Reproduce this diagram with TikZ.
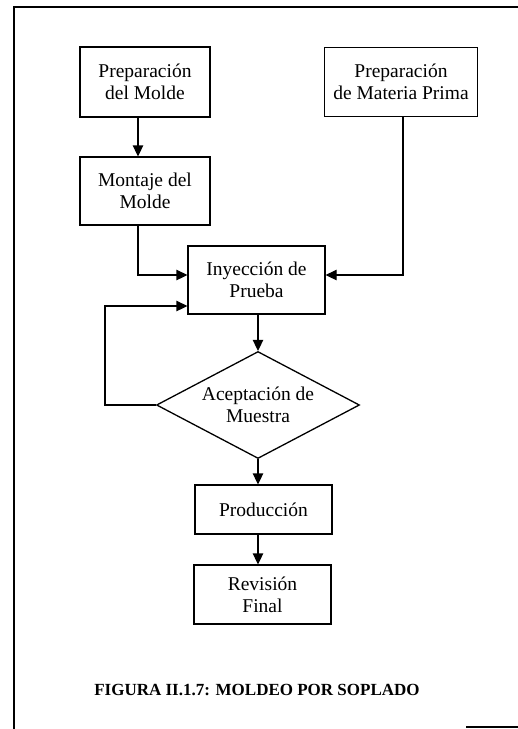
\documentclass[tikz,border=0pt]{standalone}
\usepackage{fontspec}
\setmainfont{Liberation Serif}
\usetikzlibrary{arrows.meta,shapes.geometric}
\begin{document}
\begin{tikzpicture}[x=1pt,y=-1pt,
  line width=1.3pt,
  procbox/.style={draw,rectangle,align=center,inner sep=0pt,
    font=\fontsize{19.5}{22}\selectfont},
  decision/.style={draw,diamond,align=center,inner sep=0pt,aspect=1.9,
    font=\fontsize{19.5}{22}\selectfont},
  flow/.style={-{Triangle[length=11pt,width=10.5pt]}},
  frameline/.style={line width=1.2pt}]
\useasboundingbox (0,0) rectangle (518,729);

% page frame
\draw[frameline] (14,729) -- (14,7) -- (518,7);
\draw[frameline] (466,727) -- (518,727);

% process steps
\node[procbox,minimum width=130pt,minimum height=70pt] (molde) at (145,82)
  {Preparación\\del Molde};
\node[procbox,minimum width=153pt,minimum height=69pt] (materia) at (401,82)
  {Preparación\\de Materia Prima};
\node[procbox,minimum width=130pt,minimum height=68pt] (montaje) at (145,191)
  {Montaje del\\Molde};
\node[procbox,minimum width=137pt,minimum height=68pt] (inyeccion) at (256.5,280)
  {Inyección de\\Prueba};
\node[decision,minimum width=203pt,minimum height=107pt] (aceptacion) at (258,405)
  {Aceptación de\\Muestra};
\node[procbox,minimum width=137pt,minimum height=49pt] (produccion) at (263.5,509.5)
  {Producción};
\node[procbox,minimum width=137pt,minimum height=59pt] (revision) at (262.5,594.5)
  {Revisión\\Final};

% caption
\node[font=\fontsize{17}{20}\selectfont\bfseries] (caption) at (257,690)
  {FIGURA II.1.7: MOLDEO POR SOPLADO};

% connectors
\draw[flow] ([xshift=-7pt]molde.south) -- ([xshift=-7pt]montaje.north);
\draw[flow] ([xshift=-7pt]montaje.south) |- ([yshift=5pt]inyeccion.west);
\draw[flow] ([xshift=2pt]materia.south) |- ([yshift=5pt]inyeccion.east);
\draw[flow] (inyeccion.south -| aceptacion.north) -- (aceptacion.north);
\coordinate (loopcorner) at (105,405);
\draw[flow] (aceptacion.west) -- (loopcorner) |- ([yshift=-26pt]inyeccion.west);
\draw[flow] (aceptacion.south) -- (aceptacion.south |- produccion.north);
\draw[flow] (aceptacion.south |- produccion.south) -- (aceptacion.south |- revision.north);
\end{tikzpicture}
\end{document}
